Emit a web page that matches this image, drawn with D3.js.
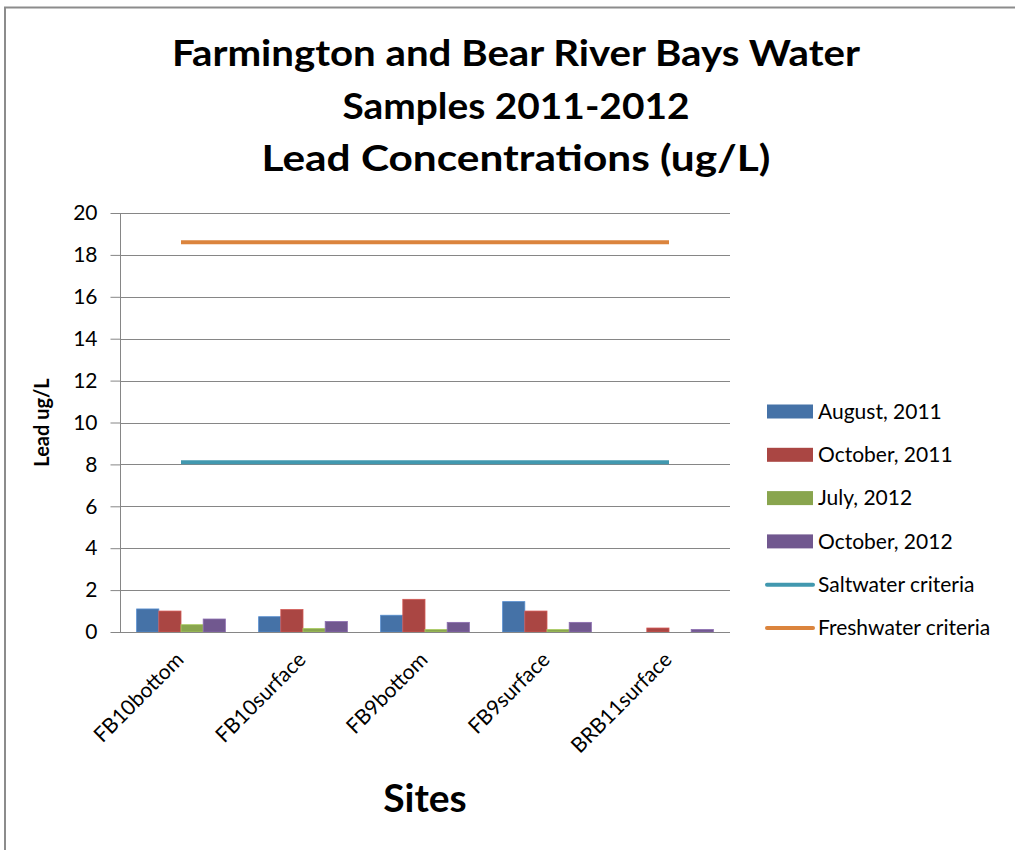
<!DOCTYPE html>
<html>
<head>
<meta charset="utf-8">
<script src="https://cdn.jsdelivr.net/npm/d3@7"></script>
<style>
  body { margin: 0; background: #fff; }
  text { font-family: Lato, "Open Sans", sans-serif; fill: #000; }
</style>
</head>
<body>
<div id="chart"></div>
<script>
// site categories on the x axis
var sites = ['FB10bottom', 'FB10surface', 'FB9bottom', 'FB9surface', 'BRB11surface'];

// sampling dates (bar series)
var seriesNames = ['August, 2011', 'October, 2011', 'July, 2012', 'October, 2012'];
var aug2011 = [1.1, 0.73, 0.8, 1.45, 0];
var oct2011 = [1.0, 1.07, 1.56, 1.0, 0.19];
var jul2012 = [0.35, 0.17, 0.12, 0.12, 0];
var oct2012 = [0.62, 0.5, 0.46, 0.46, 0.12];

// criteria (line series)
var saltwater = [8.1, 8.1, 8.1, 8.1, 8.1];
var freshwater = [18.6, 18.6, 18.6, 18.6, 18.6];

var yTicks = [0, 2, 4, 6, 8, 10, 12, 14, 16, 18, 20];

var barColors = ['#4572A7', '#AA4643', '#89A54E', '#71588F'];
var saltColor = '#4198AF', freshColor = '#DB843D';

var W = 1015, H = 850;
var margin = { left: 120, right: 285, top: 213, bottom: 218 };

var svg = d3.select('#chart').append('svg')
  .attr('width', W).attr('height', H);

// chart frame
svg.append('rect')
  .attr('x', 5).attr('y', 7.5)
  .attr('width', W + 20).attr('height', H)
  .attr('fill', 'none').attr('stroke', '#8c8c8c').attr('stroke-width', 2);

// title (widths matched to the original Calibri rendering)
var titleLines = ['Farmington and Bear River Bays Water', 'Samples 2011-2012', 'Lead Concentrations (ug/L)'];
var titleWidths = [688, 347, 509];
svg.selectAll('.title').data(titleLines).enter().append('text')
  .attr('class', 'title')
  .attr('x', 516)
  .attr('y', function (d, i) { return 66 + i * 52.5; })
  .attr('text-anchor', 'middle')
  .attr('textLength', function (d, i) { return titleWidths[i]; })
  .attr('lengthAdjust', 'spacingAndGlyphs')
  .style('font-size', '37px').style('font-weight', 'bold')
  .text(function (d) { return d; });

var x0 = d3.scaleBand().domain(sites).range([margin.left, W - margin.right]);
var y = d3.scaleLinear().domain([0, 20]).range([H - margin.bottom, margin.top]);

// gridlines
svg.append('g').selectAll('line').data(yTicks.slice(1)).enter().append('line')
  .attr('x1', margin.left).attr('x2', W - margin.right)
  .attr('y1', function (d) { return Math.round(y(d)) + 0.5; })
  .attr('y2', function (d) { return Math.round(y(d)) + 0.5; })
  .attr('stroke', '#868686').attr('stroke-width', 1);

// y axis
var yAxis = svg.append('g')
  .attr('transform', 'translate(' + (margin.left + 0.5) + ',0)')
  .call(d3.axisLeft(y).tickValues(yTicks).tickSize(10).tickPadding(13));
yAxis.selectAll('line, path').attr('stroke', '#868686');
yAxis.select('.domain').attr('d', 'M0,' + y(20) + 'V' + y(0));
yAxis.selectAll('text').style('font-size', '21px').style('font-family', 'Lato, sans-serif').attr('fill', '#000');

svg.append('text')
  .attr('transform', 'translate(49,' + ((y(0) + y(20)) / 2) + ') rotate(-90)')
  .attr('text-anchor', 'middle')
  .style('font-size', '20px').style('font-weight', 'bold')
  .text('Lead ug/L');

// bars
var allBars = [aug2011, oct2011, jul2012, oct2012];
var barW = x0.bandwidth() / 5.5;
var groupOffset = barW * 0.75;
allBars.forEach(function (vals, s) {
  svg.append('g').selectAll('rect').data(vals).enter().append('rect')
    .attr('x', function (d, i) { return x0(sites[i]) + groupOffset + s * barW; })
    .attr('y', function (d) { return y(d); })
    .attr('width', barW)
    .attr('height', function (d) { return y(0) - y(d); })
    .attr('fill', barColors[s])
    .attr('stroke', d3.color(barColors[s]).brighter(0.6))
    .attr('stroke-width', function (d) { return d > 0 ? 0.8 : 0; });
});

// x axis baseline
svg.append('line')
  .attr('x1', margin.left).attr('x2', W - margin.right)
  .attr('y1', Math.round(y(0)) + 0.5).attr('y2', Math.round(y(0)) + 0.5)
  .attr('stroke', '#868686');

// criteria lines
var line = d3.line()
  .x(function (d, i) { return x0(sites[i]) + x0.bandwidth() / 2; })
  .y(function (d) { return y(d); });
svg.append('path').attr('d', line(saltwater))
  .attr('fill', 'none').attr('stroke', saltColor).attr('stroke-width', 4);
svg.append('path').attr('d', line(freshwater))
  .attr('fill', 'none').attr('stroke', freshColor).attr('stroke-width', 4);

// x labels
svg.append('g').selectAll('text').data(sites).enter().append('text')
  .attr('transform', function (d) {
    return 'translate(' + (x0(d) + x0.bandwidth() / 2 + 4) + ',661) rotate(-45)';
  })
  .attr('text-anchor', 'end')
  .style('font-size', '21px')
  .text(function (d) { return d; });

svg.append('text')
  .attr('x', (margin.left + W - margin.right) / 2)
  .attr('y', 812)
  .attr('text-anchor', 'middle')
  .style('font-size', '39px').style('font-weight', 'bold')
  .text('Sites');

// legend
var legendItems = seriesNames.map(function (n, i) { return { name: n, color: barColors[i], type: 'bar' }; })
  .concat([{ name: 'Saltwater criteria', color: saltColor, type: 'line' },
           { name: 'Freshwater criteria', color: freshColor, type: 'line' }]);
var legend = svg.append('g').selectAll('g').data(legendItems).enter().append('g')
  .attr('transform', function (d, i) { return 'translate(767,' + (411.5 + i * 43.3) + ')'; });
legend.filter(function (d) { return d.type === 'bar'; }).append('rect')
  .attr('x', 0).attr('y', -7).attr('width', 46).attr('height', 14)
  .attr('fill', function (d) { return d.color; });
legend.filter(function (d) { return d.type === 'line'; }).append('line')
  .attr('x1', 0).attr('x2', 46).attr('y1', 0).attr('y2', 0)
  .attr('stroke', function (d) { return d.color; }).attr('stroke-width', 4)
  .attr('stroke-linecap', 'round');
legend.append('text')
  .attr('x', 51).attr('dy', '0.35em')
  .style('font-size', '21px').attr('fill', '#1a1a1a')
  .text(function (d) { return d.name; });
</script>
</body>
</html>
